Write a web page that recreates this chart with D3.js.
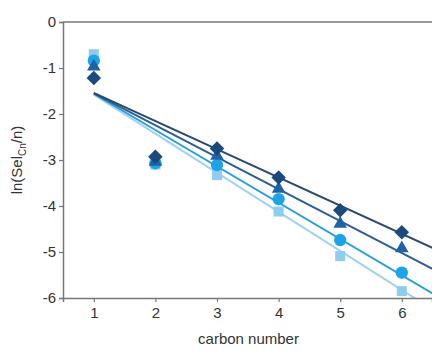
<!DOCTYPE html>
<html><head><meta charset="utf-8">
<script src="https://cdn.jsdelivr.net/npm/d3@7"></script>
<style>body{margin:0;background:#fff}svg{display:block}</style>
</head><body><svg id="c" width="432" height="351"></svg>
<script>
const carbon = [1, 2, 3, 4, 5, 6];
const seriesNames = ["square", "circle", "triangle", "diamond"];
const seriesValues = [
  [-0.70, -3.10, -3.33, -4.12, -5.09, -5.85],
  [-0.84, -3.07, -3.11, -3.85, -4.74, -5.45],
  [-0.99, -3.06, -2.93, -3.65, -4.41, -4.94],
  [-1.22, -2.93, -2.75, -3.38, -4.09, -4.57]
];
const fitX = [1, 6.5];
const fitValues = [
  [-1.58, -6.25],
  [-1.56, -5.90],
  [-1.55, -5.37],
  [-1.54, -4.91]
];
const xTicks = [1, 2, 3, 4, 5, 6];
const yTicks = [0, -1, -2, -3, -4, -5, -6];
const markerColors = ["#8fcdf0", "#1ea4e6", "#1e62a8", "#1a4a7c"];
const lineColors = ["#9ed2ef", "#2a9ed6", "#2d5f92", "#2b4a6c"];

const svg = d3.select("#c");
const L = 63, R = 432, T = 22, B = 298;
const x = d3.scaleLinear().domain([0.5, 6.49]).range([L, R]);
const y = d3.scaleLinear().domain([-6, 0]).range([B, T]);

svg.append("defs").append("clipPath").attr("id", "clip")
  .append("rect").attr("x", L).attr("y", T).attr("width", R - L).attr("height", B - T);

// fit lines
const line = d3.line().x(d => x(d[0])).y(d => y(d[1]));
const gl = svg.append("g").attr("clip-path", "url(#clip)");
fitValues.forEach((fv, i) => {
  gl.append("path").attr("d", line(fitX.map((xx, j) => [xx, fv[j]])))
    .attr("fill", "none").attr("stroke", lineColors[i]).attr("stroke-width", 2);
});

// markers
const sym = [d3.symbolSquare, d3.symbolCircle, d3.symbolTriangle, d3.symbolSquare];
const sizes = [100, 120, 80, 105];
const extra = ["", "", " translate(0,-1)", " rotate(45)"];
seriesValues.forEach((vals, i) => {
  const s = d3.symbol().type(sym[i]).size(sizes[i]);
  svg.append("g").selectAll("path").data(vals).join("path")
    .attr("d", s)
    .attr("transform", (d, j) => `translate(${x(carbon[j])},${y(d)})${extra[i]}`)
    .attr("fill", markerColors[i]);
});

// axes
const axCol = "#777";
const xa = svg.append("g").attr("transform", `translate(0,${B})`)
  .call(d3.axisBottom(x).tickValues(xTicks).tickSize(4).tickPadding(5).tickFormat(d3.format("d")));
const ya = svg.append("g").attr("transform", `translate(${L},0)`)
  .call(d3.axisLeft(y).tickValues(yTicks).tickSize(4).tickPadding(3).tickFormat(d => d === 0 ? "0" : "-" + Math.abs(d)));
[xa, ya].forEach(a => {
  a.select(".domain").attr("stroke", axCol).attr("stroke-width", 1.5);
  a.selectAll(".tick line").attr("stroke", axCol).attr("stroke-width", 1.2);
  a.selectAll("text").attr("fill", "#333").style("font-family", "Liberation Sans, Arial, sans-serif").style("font-size", "15px");
});
svg.append("line").attr("x1", L).attr("x2", R).attr("y1", T).attr("y2", T)
  .attr("stroke", axCol).attr("stroke-width", 1.5);

// labels
svg.append("text").attr("x", (L + R) / 2 + 1).attr("y", 344).attr("text-anchor", "middle")
  .style("font-family", "Liberation Sans, Arial, sans-serif").style("font-size", "15px").attr("fill", "#333")
  .text("carbon number");
const yl = svg.append("text").attr("transform", "translate(22,160) rotate(-90)").attr("text-anchor", "middle")
  .style("font-family", "Liberation Sans, Arial, sans-serif").style("font-size", "15px").attr("fill", "#333");
yl.append("tspan").text("ln(Sel");
yl.append("tspan").attr("dy", 4).style("font-size", "10px").text("Cn");
yl.append("tspan").attr("dy", -4).text("/n)");
</script></body></html>
